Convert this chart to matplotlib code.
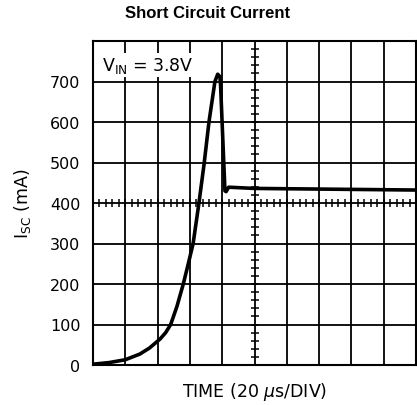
import numpy as np
import matplotlib.pyplot as plt

# data (time in us, current in mA)
time_us = [0, 10, 20, 29, 35, 41.5, 45, 48.1, 52, 55.9, 59, 62, 65.6, 68.9, 71.8, 75.5, 77.2, 78.6, 79, 81.7, 82.4, 84, 100, 200]
isc_ma = [2, 6, 13, 27, 42, 64, 80, 100, 145, 200, 250, 300, 400, 500, 600, 700, 718, 712, 690, 430, 428, 439, 436, 432]

x_ticks = np.arange(0, 201, 20)
y_ticks = [0, 100, 200, 300, 400, 500, 600, 700]
y_labels = ['0', '100', '200', '300', '400', '500', '600', '700']

fig = plt.figure(figsize=(4.17, 4.06), dpi=100)
ax = fig.add_axes([93/417, 40/406, 323/417, 324/406])

ax.set_xlim(0, 200)
ax.set_ylim(0, 800)

# grid
for xv in x_ticks:
    ax.axvline(xv, color='black', lw=1.3, zorder=1)
for yv in range(0, 801, 100):
    ax.axhline(yv, color='black', lw=1.3, zorder=1)

# small cross ticks on the centre lines
mx = np.arange(0, 201, 4)
ax.plot(mx, np.full(len(mx), 400), ls='none', marker='|', ms=6, mew=1.1, color='black', zorder=2)
my = np.arange(0, 801, 20)
ax.plot(np.full(len(my), 100), my, ls='none', marker='_', ms=6, mew=1.1, color='black', zorder=2)

ax.plot(time_us, isc_ma, color='black', lw=2.6, solid_joinstyle='round', zorder=3)

for s in ax.spines.values():
    s.set_linewidth(1.5)

ax.set_xticks([])
ax.set_yticks(y_ticks)
ax.set_yticklabels(y_labels, fontsize=11.5)
ax.tick_params(axis='y', length=0, pad=9)

ax.text(0.028, 0.958, r'V$_{\mathregular{IN}}$ = 3.8V', transform=ax.transAxes,
        fontsize=12.5, va='top', ha='left',
        bbox=dict(facecolor='white', edgecolor='none', pad=1.5), zorder=4)

ax.set_xlabel(r'TIME (20 $\mu$s/DIV)', fontsize=12.5)
ax.xaxis.set_label_coords(0.5, -0.045)
ax.set_ylabel(r'I$_{\mathregular{SC}}$ (mA)', fontsize=12.5)
ax.yaxis.set_label_coords(-0.185, 0.5)

fig.text(208/417, 1 - 13/406, 'Short Circuit Current', ha='center', va='center',
         fontsize=12, fontweight='bold', family='Liberation Sans')

fig.savefig('out.png', dpi=100)
